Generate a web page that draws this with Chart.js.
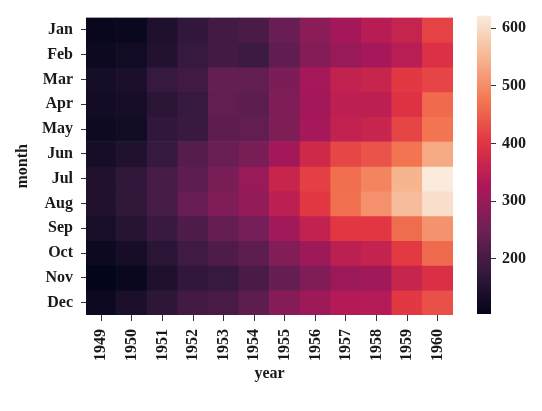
<!DOCTYPE html>
<html>
<head>
<meta charset="utf-8">
<script src="https://cdn.jsdelivr.net/npm/chart.js@4/dist/chart.umd.min.js"></script>
<style>
    html, body { margin: 0; padding: 0; background: #fff; }
    #wrap { position: relative; width: 542px; height: 411px; }
    #heat { position: absolute; left: 0; top: 0; }
    #cbar { position: absolute; left: 460px; top: 0; }
</style>
</head>
<body>
<div id="wrap">
    <canvas id="heat" width="542" height="411"></canvas>
    <canvas id="cbar" width="82" height="411"></canvas>
</div>
<script>
const years = ['1949', '1950', '1951', '1952', '1953', '1954', '1955', '1956', '1957', '1958', '1959', '1960'];
const months = ['Jan', 'Feb', 'Mar', 'Apr', 'May', 'Jun', 'Jul', 'Aug', 'Sep', 'Oct', 'Nov', 'Dec'];

// passengers per month, one value per year
const jan = [112, 115, 145, 171, 196, 204, 242, 284, 315, 340, 360, 417];
const feb = [118, 126, 150, 180, 196, 188, 233, 277, 301, 318, 342, 391];
const mar = [132, 141, 178, 193, 236, 235, 267, 317, 356, 362, 406, 419];
const apr = [129, 135, 163, 181, 235, 227, 269, 313, 348, 348, 396, 461];
const may = [121, 125, 172, 183, 229, 234, 270, 318, 355, 363, 420, 472];
const jun = [135, 149, 178, 218, 243, 264, 315, 374, 422, 435, 472, 535];
const jul = [148, 170, 199, 230, 264, 302, 364, 413, 465, 491, 548, 622];
const aug = [148, 170, 199, 242, 272, 293, 347, 405, 467, 505, 559, 606];
const sep = [136, 158, 184, 209, 237, 259, 312, 355, 404, 404, 463, 508];
const oct = [119, 133, 162, 191, 211, 229, 274, 306, 347, 359, 407, 461];
const nov = [104, 114, 146, 172, 180, 203, 237, 271, 305, 310, 362, 390];
const dec = [118, 140, 166, 194, 201, 229, 278, 306, 336, 337, 405, 432];

const colorbarTicks = [200, 300, 400, 500, 600];

const rows = [jan, feb, mar, apr, may, jun, jul, aug, sep, oct, nov, dec];
const allValues = rows.flat();
const vmin = Math.min(...allValues);
const vmax = Math.max(...allValues);

// seaborn "rocket"
const rocket = [
    [0, [3, 5, 26]],
    [1 / 7, [53, 25, 62]],
    [2 / 7, [112, 31, 87]],
    [3 / 7, [173, 23, 89]],
    [4 / 7, [225, 51, 66]],
    [5 / 7, [243, 118, 81]],
    [6 / 7, [246, 180, 143]],
    [1, [250, 235, 221]],
];

function rocketColor(t) {
    t = Math.max(0, Math.min(1, t));
    for (let i = 1; i < rocket.length; i++) {
        const [p1, c1] = rocket[i];
        const [p0, c0] = rocket[i - 1];
        if (t <= p1) {
            const f = (t - p0) / (p1 - p0);
            const c = c0.map((v, k) => Math.round(v + (c1[k] - v) * f));
            return `rgb(${c[0]},${c[1]},${c[2]})`;
        }
    }
    return 'rgb(250,235,221)';
}

const valueColor = (v) => rocketColor((v - vmin) / (vmax - vmin));

const font = { family: '"Liberation Serif", "Times New Roman", serif', size: 16, weight: 'bold' };
const textColor = '#1a1a1a';
const tickColor = '#333';

new Chart(document.getElementById('heat'), {
    type: 'bar',
    data: {
        labels: years,
        datasets: rows.map((row, m) => ({
            label: months[m],
            data: row.map(() => 1),
            backgroundColor: row.map(valueColor),
            borderWidth: 0,
            barPercentage: 1,
            categoryPercentage: 1,
        })),
    },
    options: {
        responsive: false,
        animation: false,
        layout: { padding: { left: 0, right: 89, top: 15, bottom: 0 } },
        plugins: {
            legend: { display: false },
            tooltip: { enabled: false },
        },
        scales: {
            x: {
                stacked: true,
                border: { display: false },
                grid: { offset: false, drawOnChartArea: false, tickLength: 6, color: tickColor },
                ticks: { minRotation: 90, maxRotation: 90, padding: 8, font, color: textColor },
                title: { display: true, text: 'year', font, color: textColor, padding: { top: 0, bottom: 28 } },
                afterFit: (scale) => { scale.height = 96; },
            },
            y: {
                stacked: true,
                reverse: true,
                min: 0,
                max: months.length,
                border: { display: false },
                grid: { drawOnChartArea: false, tickLength: 5, color: tickColor },
                afterBuildTicks: (scale) => {
                    scale.ticks = months.map((m, i) => ({ value: i + 0.5 }));
                },
                ticks: { callback: (value, index) => months[index], padding: 8, font, color: textColor },
                title: { display: true, text: 'month', font, color: textColor, padding: { top: 13, bottom: 0 } },
                afterFit: (scale) => { scale.width = 86; },
            },
        },
    },
});

new Chart(document.getElementById('cbar'), {
    type: 'bar',
    data: {
        labels: ['passengers'],
        datasets: [{
            data: [[vmin, vmax]],
            borderWidth: 0,
            barPercentage: 1,
            categoryPercentage: 1,
            backgroundColor: (ctx) => {
                const { chart } = ctx;
                if (!chart.chartArea) {
                    return 'transparent';
                }
                const y = chart.scales.y;
                const g = chart.ctx.createLinearGradient(0, y.getPixelForValue(vmin), 0, y.getPixelForValue(vmax));
                for (let i = 0; i <= 50; i++) {
                    g.addColorStop(i / 50, rocketColor(i / 50));
                }
                return g;
            },
        }],
    },
    options: {
        responsive: false,
        animation: false,
        layout: { padding: { left: 17, right: 0, top: 15, bottom: 97 } },
        plugins: {
            legend: { display: false },
            tooltip: { enabled: false },
        },
        scales: {
            x: { display: false },
            y: {
                position: 'right',
                min: vmin,
                max: vmax,
                border: { display: false },
                grid: { drawOnChartArea: false, tickLength: 5, color: tickColor },
                afterBuildTicks: (scale) => {
                    scale.ticks = colorbarTicks.map((value) => ({ value }));
                },
                ticks: { padding: 6, font, color: textColor },
                afterFit: (scale) => { scale.width = 51; },
            },
        },
    },
});
</script>
</body>
</html>
